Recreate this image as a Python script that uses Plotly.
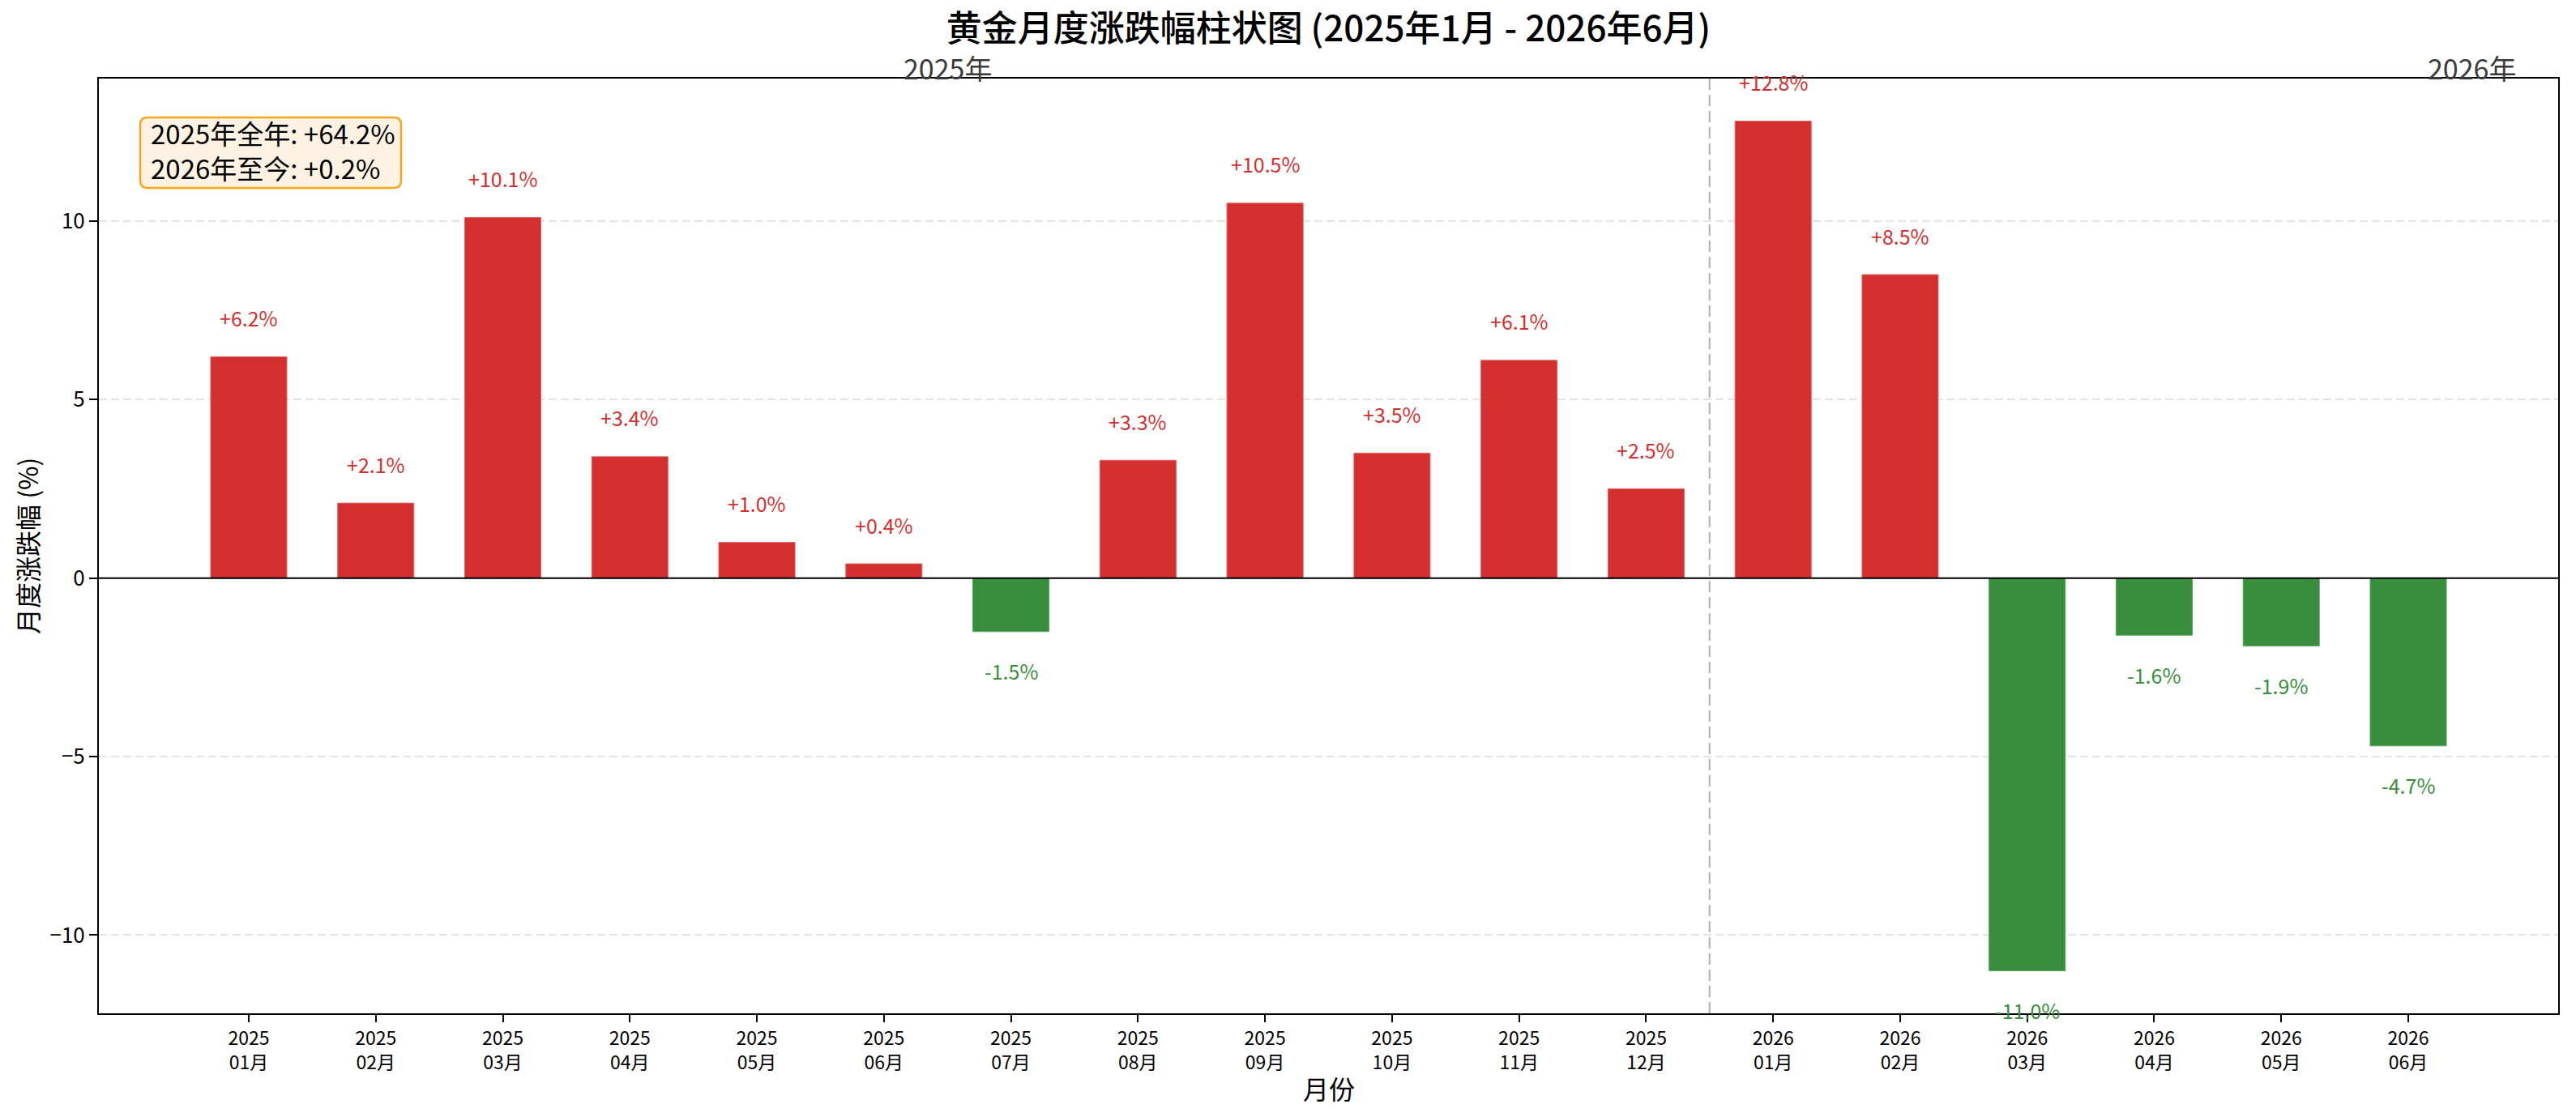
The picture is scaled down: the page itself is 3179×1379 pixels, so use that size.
import plotly.graph_objects as go

# ---- data ----
years = ["2025"] * 12 + ["2026"] * 6
months = ["01", "02", "03", "04", "05", "06", "07", "08", "09", "10", "11", "12",
          "01", "02", "03", "04", "05", "06"]
changes = [6.2, 2.1, 10.1, 3.4, 1.0, 0.4, -1.5, 3.3, 10.5, 3.5, 6.1, 2.5,
           12.8, 8.5, -11.0, -1.6, -1.9, -4.7]
summary_lines = ["2025年全年: +64.2%", "2026年至今: +0.2%"]
year_labels = ["2025年", "2026年"]
title_text = "黄金月度涨跌幅柱状图 (2025年1月 - 2026年6月)"

FONT = "Noto Sans CJK SC"
RED = "#d32f2f"
GREEN = "#388e3c"

W, H = 3179, 1379
ML, MR, MT, MB = 122, 22, 97, 128
PW, PH = W - ML - MR, H - MT - MB

x = list(range(len(changes)))
colors = [RED if v >= 0 else GREEN for v in changes]
ticktext = [f"{y}<br>{m}月" for y, m in zip(years, months)]

fig = go.Figure()
fig.add_trace(go.Bar(
    x=x, y=changes, width=0.6,
    marker=dict(color=colors, line=dict(width=1, color=["#e06666" if v >= 0 else "#5aa55d" for v in changes])),
    hoverinfo="skip", showlegend=False,
))

ymin, ymax = min(changes), max(changes)
pad = (ymax - ymin) * 0.05
yr = [ymin - pad, ymax + pad]
xr = [-0.3 - 17.6 * 0.05, 17.3 + 17.6 * 0.05]

annotations = []
for xi, v, c in zip(x, changes, colors):
    annotations.append(dict(
        x=xi, y=v + 1.1 if v >= 0 else v - 1.1, xref="x", yref="y",
        text=f"{v:+.1f}%", showarrow=False, yanchor="middle",
        font=dict(family=FONT, size=25, color=c),
    ))

# year labels above plot, centred on each year's months
first_2026 = years.index("2026")
yl_pos = [(0 + first_2026 - 1) / 2, (first_2026 + first_2026 + 11) / 2]
for lab, xp in zip(year_labels, yl_pos):
    annotations.append(dict(
        x=xp, y=1, xref="x", yref="paper", text=lab, showarrow=False,
        yanchor="bottom", yshift=-13, font=dict(family=FONT, size=34, color="#3a3a3a"),
    ))

# summary box text
annotations.append(dict(
    x=(184 - ML) / PW, y=1 - ((168 + 203) / 2 - MT) / PH, xref="paper", yref="paper",
    text="<br>".join(summary_lines), showarrow=False, xanchor="left", yanchor="middle",
    align="left", font=dict(family=FONT, size=33, color="black"),
))

# axis titles
annotations.append(dict(
    x=(33 - ML) / PW, y=0.5, xref="paper", yref="paper", text="月度涨跌幅 (%)",
    showarrow=False, textangle=-90, xanchor="center", yanchor="middle",
    font=dict(family=FONT, size=32, color="black"),
))
annotations.append(dict(
    x=0.5, y=(MT + PH - 1343) / PH, xref="paper", yref="paper", text="月份",
    showarrow=False, xanchor="center", yanchor="middle",
    font=dict(family=FONT, size=32, color="black"),
))

# rounded box path (paper coords)
bx0, bx1 = (173 - ML) / PW, (495 - ML) / PW
by1, by0 = 1 - (145 - MT) / PH, 1 - (232 - MT) / PH
rx, ry = 9 / PW, 9 / PH
path = (f"M{bx0+rx},{by0} L{bx1-rx},{by0} Q{bx1},{by0} {bx1},{by0+ry} "
        f"L{bx1},{by1-ry} Q{bx1},{by1} {bx1-rx},{by1} L{bx0+rx},{by1} "
        f"Q{bx0},{by1} {bx0},{by1-ry} L{bx0},{by0+ry} Q{bx0},{by0} {bx0+rx},{by0} Z")

shapes = [
    dict(type="line", xref="paper", yref="y", x0=0, x1=1, y0=0, y1=0,
         line=dict(color="black", width=2), layer="above"),
    dict(type="line", xref="x", yref="paper", x0=first_2026 - 0.5, x1=first_2026 - 0.5, y0=0, y1=1,
         line=dict(color="#b0b0b0", width=2, dash="14px,6px"), layer="above"),
    dict(type="path", xref="paper", yref="paper", path=path,
         fillcolor="#fef3e3", line=dict(color="#ffa31a", width=2.5), layer="above"),
]

fig.update_layout(
    width=W, height=H,
    margin=dict(l=ML, r=MR, t=MT, b=MB),
    paper_bgcolor="white", plot_bgcolor="white",
    font=dict(family=FONT, color="black"),
    title=dict(text=title_text, x=0.5, xref="paper", xanchor="center",
               y=1 - 36 / H, yref="container", yanchor="middle",
               font=dict(family=FONT, size=44, color="black", weight=500)),
    xaxis=dict(range=xr, tickmode="array", tickvals=x, ticktext=ticktext,
               tickfont=dict(family=FONT, size=23, color="black"),
               ticks="outside", ticklen=9, tickwidth=2, tickcolor="black",
               showline=True, linecolor="black", linewidth=2, mirror=True,
               showgrid=False, zeroline=False),
    yaxis=dict(range=yr, tickmode="array", tickvals=[-10, -5, 0, 5, 10],
               tickfont=dict(family=FONT, size=26, color="black"),
               ticks="outside", ticklen=10, tickwidth=2, tickcolor="black",
               showline=True, linecolor="black", linewidth=2, mirror=True,
               showgrid=True, gridcolor="#e3e3e3", gridwidth=2, griddash="10px,5px",
               zeroline=False),
    annotations=annotations,
    shapes=shapes,
    bargap=0.4,
)

fig.write_html("out.html")
